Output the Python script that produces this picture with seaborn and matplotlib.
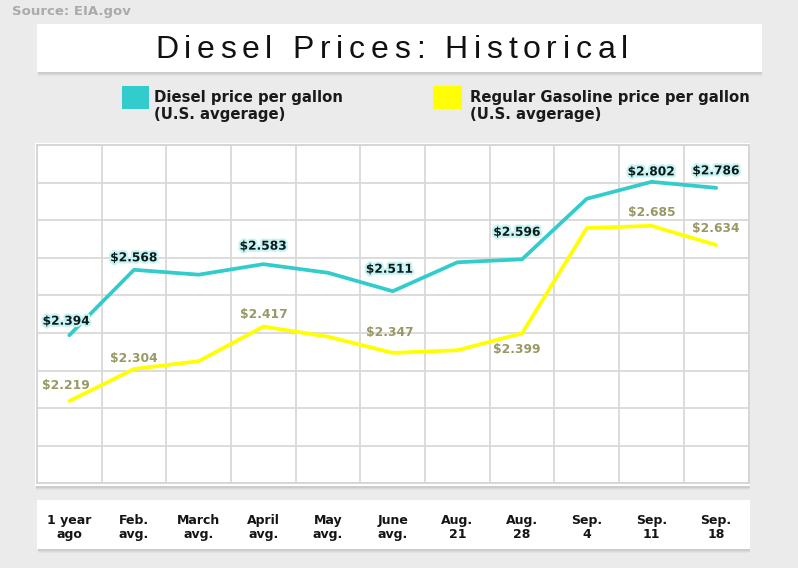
import numpy as np
import pandas as pd
import matplotlib
matplotlib.use("Agg")
import matplotlib.pyplot as plt
import seaborn as sns
from matplotlib.patches import Rectangle
import matplotlib.patheffects as pe

# ---------------- data ----------------
periods = ["1 year\nago", "Feb.\navg.", "March\navg.", "April\navg.", "May\navg.",
           "June\navg.", "Aug.\n21", "Aug.\n28", "Sep.\n4", "Sep.\n11", "Sep.\n18"]
diesel = [2.394, 2.568, 2.555, 2.583, 2.560, 2.511, 2.588, 2.596, 2.757, 2.802, 2.786]
gasoline = [2.219, 2.304, 2.325, 2.417, 2.390, 2.347, 2.354, 2.399, 2.679, 2.685, 2.634]
labeled_idx = [0, 1, 3, 5, 7, 9, 10]
series_names = ["Diesel price per gallon\n(U.S. avgerage)",
                "Regular Gasoline price per gallon\n(U.S. avgerage)"]
title = "Diesel Prices: Historical"
source = "Source: EIA.gov"

# label offsets in pixels (styling only)
diesel_dy = [14, 12, 18, 22, 27, 10, 17]
gas_dy = [15, 11, 12, 20, -16, 13, 16]
label_dx = [-3, 0, 0, -3, -5, 0, 0]

DIESEL_C = "#33cccc"
GAS_C = "#ffff00"
BG = "#ebebeb"
BOLD_FAM = ["DejaVu Sans"]

sns.set_style("white")
plt.rcParams["font.family"] = ["Liberation Sans", "DejaVu Sans"]

W, H = 798, 568
fig = plt.figure(figsize=(W / 100, H / 100), dpi=100, facecolor=BG)


def fx(px):
    return px / W


def fy(py):
    return 1 - py / H


def box(x0, y0, x1, y1, z=-5):
    for dy, a in [(4, 0.03), (3, 0.045), (2, 0.06)]:
        fig.patches.append(Rectangle((fx(x0 + 1), fy(y1 + dy)), fx(x1 - x0 - 1), fy(y0) - fy(y1),
                                     transform=fig.transFigure, facecolor="black", alpha=a,
                                     edgecolor="none", zorder=z))
    fig.patches.append(Rectangle((fx(x0), fy(y1)), fx(x1 - x0), fy(y0) - fy(y1),
                                 transform=fig.transFigure, facecolor="white",
                                 edgecolor="none", zorder=z + 0.5))


# title box, plot panel and x-label box
box(37, 24, 762, 72)
box(35, 143, 750, 486)
box(37, 500, 750, 549)

# source
fig.text(fx(12), fy(12), source, fontsize=9.5, fontweight="bold", color="#aaaaaa",
         family=BOLD_FAM, ha="left", va="center")

# ---------------- main axes ----------------
ax = fig.add_axes([fx(37), fy(483.3), fx(748.5 - 37), fy(145) - fy(483.3)])
ax.set_facecolor("white")

df = pd.DataFrame({
    "pos": list(range(len(periods))) * 2,
    "price": diesel + gasoline,
    "series": [series_names[0]] * len(periods) + [series_names[1]] * len(periods),
})
sns.lineplot(data=df, x="pos", y="price", hue="series",
             palette={series_names[0]: DIESEL_C, series_names[1]: GAS_C},
             linewidth=2.7, legend=False, ax=ax, zorder=3)

ax.set_xlim(-0.5, len(periods) - 0.5)
ax.set_ylim(2.0, 2.9)
ax.set_yticks(np.arange(2.0, 2.91, 0.1))
ax.set_yticklabels([])
ax.set_xticks(range(len(periods)))
ax.set_xticklabels(periods, fontsize=9, color="#151515",
                   family=BOLD_FAM, fontweight="bold", linespacing=1.15)
ax.set_xticks(np.arange(-0.5, len(periods), 1), minor=True)
ax.tick_params(axis="both", which="both", length=0)
ax.tick_params(axis="x", which="major", pad=22)
ax.set_xlabel("")
ax.set_ylabel("")
ax.grid(False)
ax.grid(True, which="major", axis="y", color="#d9d9d9", linewidth=1.3)
ax.grid(True, which="minor", axis="x", color="#d9d9d9", linewidth=1.3)
for s in ax.spines.values():
    s.set_color("#d4d4d4")
    s.set_linewidth(1.3)

# value labels
for k, i in enumerate(labeled_idx):
    ax.annotate(f"${diesel[i]:.3f}", (i, diesel[i]), xytext=(label_dx[k] * 0.72, diesel_dy[k] * 0.72),
                textcoords="offset points", ha="center", va="center", fontsize=8.8,
                fontweight="bold", family=BOLD_FAM, color="#0d1a1a", zorder=5,
                path_effects=[pe.withStroke(linewidth=3.2, foreground="#c8f3f3")])
    ax.annotate(f"${gasoline[i]:.3f}", (i, gasoline[i]), xytext=(label_dx[k] * 0.72, gas_dy[k] * 0.72),
                textcoords="offset points", ha="center", va="center", fontsize=8.8,
                fontweight="bold", family=BOLD_FAM, color="#999966", zorder=5)

# ---------------- legend ----------------
for (x0, x1, tx), name, col in zip([(122, 149, 154), (433, 462, 470)], series_names, [DIESEL_C, GAS_C]):
    fig.patches.append(Rectangle((fx(x0), fy(109)), fx(x1 - x0), fy(86) - fy(109),
                                 transform=fig.transFigure, facecolor=col, edgecolor="none"))
    fig.text(fx(tx), fy(106), name, fontsize=10.7, fontweight="bold", color="#1a1a1a",
             family=BOLD_FAM, ha="left", va="center", linespacing=1.17)

# ---------------- letter-spaced title ----------------
fig.canvas.draw()
r = fig.canvas.get_renderer()
tkw = dict(fontsize=23, color="#111111", family=["Liberation Sans", "DejaVu Sans"])


def tw(s):
    t = fig.text(0, 0, s, **tkw)
    w = t.get_window_extent(r).width
    t.remove()
    return w


bar_w = tw("|")
adv = [tw(title[:i] + "|") - bar_w if i > 0 else 0 for i in range(len(title) + 1)]
natural = tw(title)
target = 628 - 155
spacing = (target - natural) / (len(title) - 1)
x_start = 155
for i, c in enumerate(title):
    if c == " ":
        continue
    fig.text(fx(x_start + adv[i] + i * spacing), fy(46.5), c, ha="left", va="center_baseline", **tkw)

fig.savefig("out.png", dpi=100, facecolor=BG)
